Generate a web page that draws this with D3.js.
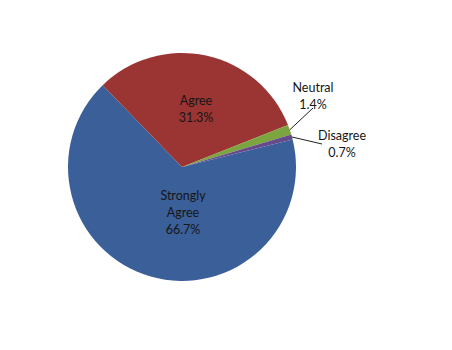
<!DOCTYPE html>
<html>
<head>
<meta charset="utf-8">
<script src="https://cdn.jsdelivr.net/npm/d3@7"></script>
<style>
  html, body { margin: 0; padding: 0; background: #fff; }
  svg { display: block; }
  text { font-family: Lato, "Open Sans", sans-serif; font-size: 12.5px; fill: #161616; }
</style>
</head>
<body>
<svg id="chart" width="452" height="350"></svg>
<script>
// Survey responses (percent of respondents)
const categories = ["Strongly Agree", "Agree", "Neutral", "Disagree"];
const values = [66.7, 31.3, 1.4, 0.7];
const labelLines = [["Strongly", "Agree", "66.7%"], ["Agree", "31.3%"], ["Neutral", "1.4%"], ["Disagree", "0.7%"]];
const colors = ["#3b5f98", "#9a3533", "#7da53f", "#654b8c"];

const svg = d3.select("#chart");
const cx = 182, cy = 167, r = 114;
const g = svg.append("g").attr("transform", `translate(${cx},${cy})`);

const data = categories.map((c, i) => ({ name: c, value: values[i], lines: labelLines[i], color: colors[i] }));

const pie = d3.pie().sort(null).value(d => d.value)
  .startAngle(76 * Math.PI / 180).endAngle(76 * Math.PI / 180 + 2 * Math.PI);
const arcs = pie(data);
const arc = d3.arc().innerRadius(0).outerRadius(r);

g.selectAll("path.slice").data(arcs).enter().append("path")
  .attr("class", "slice")
  .attr("d", arc)
  .attr("fill", d => d.data.color);

// Inside labels for the large slices
const lineH = 17;
const insideOffsets = [[1, 46], [14, -58]];
arcs.slice(0, 2).forEach((a, i) => {
  const n = a.data.lines.length;
  const x = insideOffsets[i][0], y = insideOffsets[i][1];
  const t = g.append("text").attr("text-anchor", "middle");
  a.data.lines.forEach((ln, j) => {
    t.append("tspan").attr("x", x).attr("y", y + (j - (n - 1) / 2) * lineH + 4).text(ln);
  });
});

// Outside labels with leader lines for the small slices
const outside = [
  { idx: 2, lx: 313, ly: 96, ex: 313, ey: 108 },
  { idx: 3, lx: 342, ly: 144, ex: 322, ey: 144 }
];
outside.forEach(o => {
  const a = arcs[o.idx];
  const mid = (a.startAngle + a.endAngle) / 2;
  const px = cx + Math.sin(mid) * r, py = cy - Math.cos(mid) * r;
  svg.append("line")
    .attr("x1", px).attr("y1", py).attr("x2", o.ex).attr("y2", o.ey)
    .attr("stroke", "#222").attr("stroke-width", 1);
  const t = svg.append("text").attr("text-anchor", "middle");
  a.data.lines.forEach((ln, j) => {
    t.append("tspan").attr("x", o.lx).attr("y", o.ly + (j - 0.5) * lineH + 4).text(ln);
  });
});
</script>
</body>
</html>
